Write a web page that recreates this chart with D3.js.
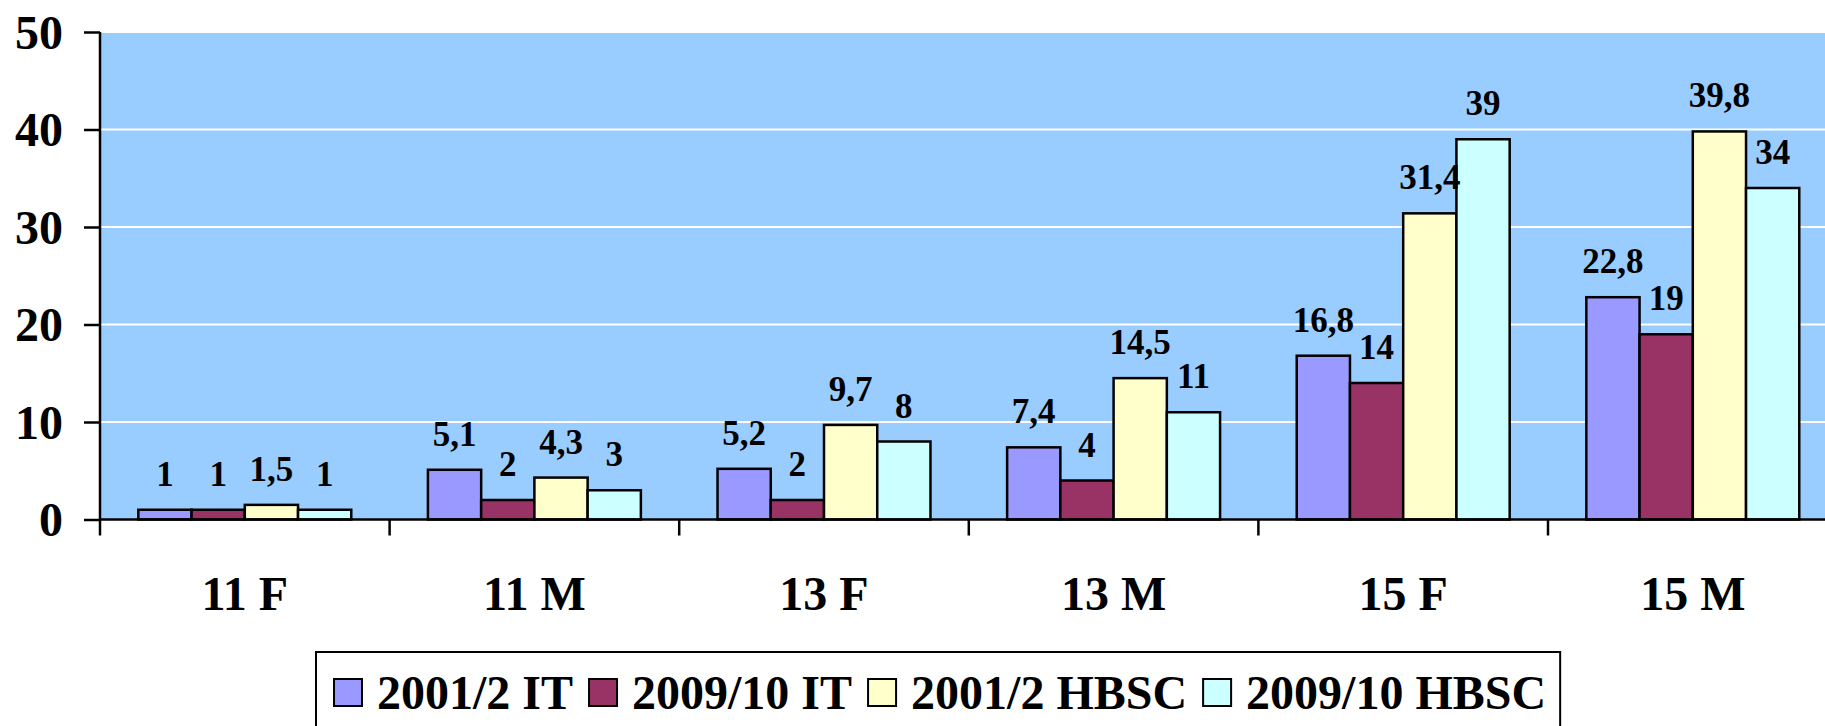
<!DOCTYPE html>
<html>
<head>
<meta charset="utf-8">
<script src="https://cdn.jsdelivr.net/npm/d3@7"></script>
<style>
  html, body { margin: 0; padding: 0; background: #ffffff; overflow: hidden; }
  svg { display: block; }
  text { font-family: "Liberation Serif", "Times New Roman", serif; font-weight: bold; fill: #000; }
</style>
</head>
<body>
<svg id="chart" width="1825" height="726"></svg>
<script>
// Age / sex groups on the category axis
const categories = ["11 F", "11 M", "13 F", "13 M", "15 F", "15 M"];
// Survey series
const seriesNames = ["2001/2 IT", "2009/10 IT", "2001/2 HBSC", "2009/10 HBSC"];
const it2001 = [1, 5.1, 5.2, 7.4, 16.8, 22.8];
const it2009 = [1, 2, 2, 4, 14, 19];
const hbsc2001 = [1.5, 4.3, 9.7, 14.5, 31.4, 39.8];
const hbsc2009 = [1, 3, 8, 11, 39, 34];
const seriesColors = ["#9999FF", "#993366", "#FFFFCC", "#CCFFFF"];
const yTicks = [0, 10, 20, 30, 40, 50];

const seriesValues = [it2001, it2009, hbsc2001, hbsc2009];
const rows = categories.map((c, i) => ({
  category: c,
  values: seriesNames.map((s, k) => ({ series: s, value: seriesValues[k][i], k }))
}));

const svg = d3.select("#chart");
const plotLeft = 100, bandW = 289.6;
const plotTop = 32, plotBottom = 519.5;

const x = d3.scaleBand().domain(categories)
  .range([plotLeft, plotLeft + bandW * categories.length]).paddingInner(0).paddingOuter(0);
const xs = d3.scaleBand().domain(seriesNames).range([0, x.bandwidth()])
  .paddingInner(0).paddingOuter(0.72);
const y = d3.scaleLinear().domain([0, 50]).range([plotBottom, plotTop]);

const locale = d3.formatLocale({ decimal: ",", thousands: ".", grouping: [3], currency: ["", ""] });
const fmt = locale.format("~g");

// Plot background
svg.append("rect")
  .attr("x", plotLeft).attr("y", plotTop)
  .attr("width", bandW * categories.length).attr("height", plotBottom - plotTop)
  .attr("fill", "#99CCFF");

// Horizontal gridlines
svg.append("g").selectAll("line").data(yTicks.filter(d => d > 0)).join("line")
  .attr("x1", plotLeft + 1).attr("x2", plotLeft + bandW * categories.length)
  .attr("y1", d => y(d)).attr("y2", d => y(d))
  .attr("stroke", "#ffffff").attr("stroke-width", 2);

// Bars
const groups = svg.append("g").selectAll("g").data(rows).join("g")
  .attr("transform", d => `translate(${x(d.category)},0)`);

groups.selectAll("rect").data(d => d.values).join("rect")
  .attr("x", d => xs(d.series))
  .attr("y", d => y(d.value))
  .attr("width", xs.bandwidth())
  .attr("height", d => y(0) - y(d.value))
  .attr("fill", d => seriesColors[d.k])
  .attr("stroke", "#000").attr("stroke-width", 2.5);

// Value labels
groups.selectAll("text").data(d => d.values).join("text")
  .attr("x", d => xs(d.series) + xs.bandwidth() / 2)
  .attr("y", d => y(d.value) - 24)
  .attr("text-anchor", "middle")
  .attr("font-size", 35)
  .text(d => fmt(d.value));

// Y axis
const yAxis = d3.axisLeft(y).tickValues(yTicks).tickSize(16).tickPadding(21)
  .tickFormat(d3.format("d"));
const gy = svg.append("g").attr("transform", `translate(${plotLeft},0)`).call(yAxis);
gy.attr("font-family", null).attr("font-size", null);
gy.select(".domain").attr("stroke", "#000").attr("stroke-width", 2.5)
  .attr("d", `M0,${plotTop}V${plotBottom}`);
gy.selectAll(".tick line").attr("stroke", "#000").attr("stroke-width", 2.5);
gy.selectAll(".tick text")
  .attr("font-size", 48).attr("dy", "0.34em");

// X axis line with ticks on category boundaries
svg.append("line")
  .attr("x1", plotLeft).attr("x2", plotLeft + bandW * categories.length)
  .attr("y1", plotBottom).attr("y2", plotBottom)
  .attr("stroke", "#000").attr("stroke-width", 2.5);
const boundaries = categories.map(c => x(c));
svg.append("g").selectAll("line").data(boundaries).join("line")
  .attr("x1", d => d).attr("x2", d => d)
  .attr("y1", plotBottom).attr("y2", plotBottom + 16)
  .attr("stroke", "#000").attr("stroke-width", 2.5);

// Category labels
svg.append("g").selectAll("text").data(categories).join("text")
  .attr("x", d => x(d) + x.bandwidth() / 2)
  .attr("y", 610)
  .attr("text-anchor", "middle")
  .attr("font-size", 48)
  .text(d => d);

// Legend
const legend = svg.append("g");
const legendBox = legend.append("rect")
  .attr("x", 316).attr("y", 652).attr("height", 120)
  .attr("fill", "#fff").attr("stroke", "#000").attr("stroke-width", 2);
let lx = 334;
const itemGap = 16;
seriesNames.forEach((name, k) => {
  legend.append("rect")
    .attr("x", lx).attr("y", 679).attr("width", 28).attr("height", 27)
    .attr("fill", seriesColors[k]).attr("stroke", "#000").attr("stroke-width", 2);
  const t = legend.append("text")
    .attr("x", lx + 43).attr("y", 709)
    .attr("font-size", 48)
    .text(name);
  lx = lx + 43 + t.node().getComputedTextLength() + itemGap;
});
legendBox.attr("width", lx - itemGap + 14 - 316);
</script>
</body>
</html>
